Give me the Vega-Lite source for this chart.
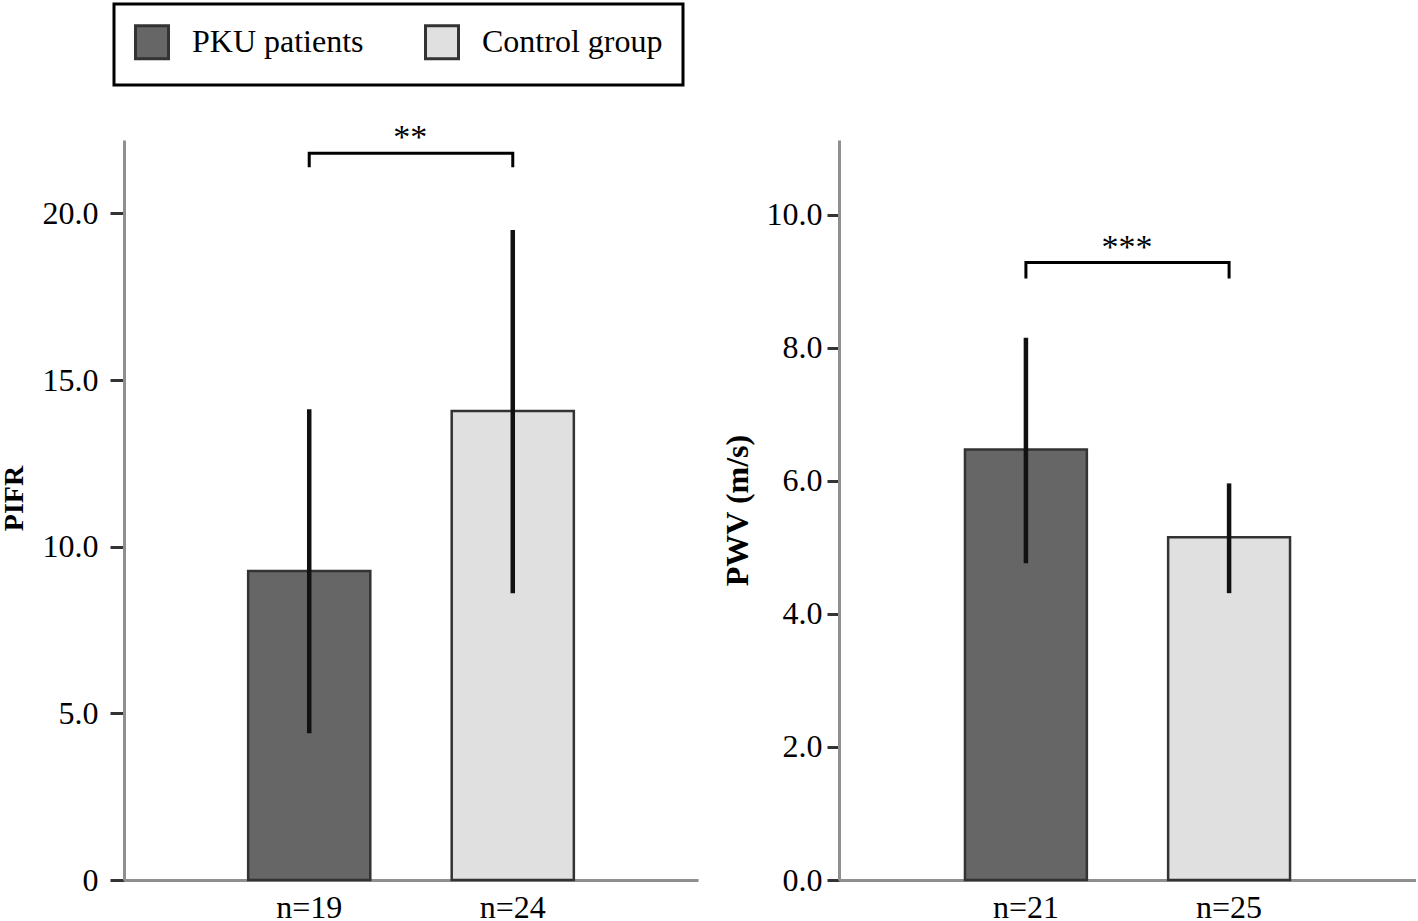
{
  "$schema": "https://vega.github.io/schema/vega-lite/v6.json",
  "padding": {"left": 0, "top": 2, "right": 0, "bottom": 0},
  "background": "#ffffff",
  "config": {
    "font": "Liberation Serif",
    "view": {"stroke": null},
    "axis": {
      "labelFont": "Liberation Serif", "labelFontSize": 32, "labelColor": "#000000",
      "titleFont": "Liberation Serif", "titleFontSize": 32, "titleFontWeight": "bold", "titleColor": "#000000",
      "grid": false, "domainColor": "#8f8f8f", "domainWidth": 3, "tickColor": "#333333", "tickWidth": 3
    },
    "legend": {"strokeWidth": 3}
  },
  "datasets": {
    "pifr": [
      {"label": "n=19", "group": "PKU patients", "mean": 9.27, "lo": 4.4, "hi": 14.12},
      {"label": "n=24", "group": "Control group", "mean": 14.07, "lo": 8.6, "hi": 19.5}
    ],
    "pifrBracket": [
      {"label": "n=19", "y": 21.38, "o": 1},
      {"label": "n=19", "y": 21.8, "o": 2},
      {"label": "n=24", "y": 21.8, "o": 3},
      {"label": "n=24", "y": 21.38, "o": 4}
    ],
    "pifrSig": [{"label": "n=19", "y": 21.97, "sig": "**"}],
    "pwv": [
      {"label": "n=21", "group": "PKU patients", "mean": 6.47, "lo": 4.76, "hi": 8.15},
      {"label": "n=25", "group": "Control group", "mean": 5.15, "lo": 4.31, "hi": 5.96}
    ],
    "pwvBracket": [
      {"label": "n=21", "y": 9.04, "o": 1},
      {"label": "n=21", "y": 9.28, "o": 2},
      {"label": "n=25", "y": 9.28, "o": 3},
      {"label": "n=25", "y": 9.04, "o": 4}
    ],
    "pwvSig": [{"label": "n=21", "y": 9.34, "sig": "***"}]
  },
  "spacing": 23,
  "resolve": {"scale": {"x": "independent", "y": "independent", "color": "shared"}, "legend": {"color": "shared"}},
  "hconcat": [
    {
      "width": 574, "height": 740,
      "layer": [
        {
          "data": {"name": "pifr"},
          "mark": {"type": "bar", "stroke": "#333333", "strokeWidth": 2.5},
          "encoding": {
            "x": {"field": "label", "type": "nominal", "sort": null,
              "scale": {"paddingInner": 0.4, "paddingOuter": 0.61},
              "axis": {"title": null, "labelAngle": 0, "ticks": false, "labelPadding": 12}},
            "y": {"field": "mean", "type": "quantitative",
              "scale": {"domain": [0, 22.2], "nice": false, "zero": true},
              "axis": {"title": "PIFR", "titleFontSize": 28, "titleY": 358, "values": [0, 5, 10, 15, 20],
                "labelExpr": "datum.value == 0 ? '0' : format(datum.value, '.1f')",
                "tickSize": 14, "labelPadding": 12, "titlePadding": 14}},
            "color": {"field": "group", "type": "nominal",
              "scale": {"domain": ["PKU patients", "Control group"], "range": ["#666666", "#e0e0e0"]},
              "legend": {"title": null, "orient": "none", "legendX": -10, "legendY": -136,
                "direction": "horizontal", "symbolType": "square", "symbolSize": 1089,
                "symbolStrokeColor": "#111111", "symbolStrokeWidth": 3, "symbolFillOpacity": 1,
                "labelFont": "Liberation Serif", "labelFontSize": 32, "labelColor": "#000000",
                "labelOffset": 22, "columnPadding": 55, "padding": 20, "labelLimit": 400,
                "strokeColor": "#000000", "fillColor": "#ffffff"}}
          }
        },
        {
          "data": {"name": "pifr"},
          "mark": {"type": "rule", "strokeWidth": 4.5, "color": "#111111"},
          "encoding": {
            "x": {"field": "label", "type": "nominal", "sort": null},
            "y": {"field": "lo", "type": "quantitative"},
            "y2": {"field": "hi"}
          }
        },
        {
          "data": {"name": "pifrBracket"},
          "mark": {"type": "line", "strokeWidth": 3, "color": "#000000", "strokeJoin": "miter"},
          "encoding": {
            "x": {"field": "label", "type": "nominal", "sort": null},
            "y": {"field": "y", "type": "quantitative"},
            "order": {"field": "o", "type": "quantitative"}
          }
        },
        {
          "data": {"name": "pifrSig"},
          "mark": {"type": "text", "fontSize": 34, "dx": 101, "baseline": "alphabetic", "color": "#000000"},
          "encoding": {
            "x": {"field": "label", "type": "nominal", "sort": null},
            "y": {"field": "y", "type": "quantitative"},
            "text": {"field": "sig"}
          }
        }
      ]
    },
    {
      "width": 577, "height": 740,
      "layer": [
        {
          "data": {"name": "pwv"},
          "mark": {"type": "bar", "stroke": "#333333", "strokeWidth": 2.5},
          "encoding": {
            "x": {"field": "label", "type": "nominal", "sort": null,
              "scale": {"paddingInner": 0.4, "paddingOuter": 0.62},
              "axis": {"title": null, "labelAngle": 0, "ticks": false, "labelPadding": 12}},
            "y": {"field": "mean", "type": "quantitative",
              "scale": {"domain": [0, 11.12], "nice": false, "zero": true},
              "axis": {"title": "PWV (m/s)", "values": [0, 2, 4, 6, 8, 10], "format": ".1f",
                "tickSize": 12, "labelPadding": 5, "titlePadding": 12}},
            "color": {"field": "group", "type": "nominal",
              "scale": {"domain": ["PKU patients", "Control group"], "range": ["#666666", "#e0e0e0"]}}
          }
        },
        {
          "data": {"name": "pwv"},
          "mark": {"type": "rule", "strokeWidth": 4.5, "color": "#111111"},
          "encoding": {
            "x": {"field": "label", "type": "nominal", "sort": null},
            "y": {"field": "lo", "type": "quantitative"},
            "y2": {"field": "hi"}
          }
        },
        {
          "data": {"name": "pwvBracket"},
          "mark": {"type": "line", "strokeWidth": 3, "color": "#000000", "strokeJoin": "miter"},
          "encoding": {
            "x": {"field": "label", "type": "nominal", "sort": null},
            "y": {"field": "y", "type": "quantitative"},
            "order": {"field": "o", "type": "quantitative"}
          }
        },
        {
          "data": {"name": "pwvSig"},
          "mark": {"type": "text", "fontSize": 34, "dx": 101, "baseline": "alphabetic", "color": "#000000"},
          "encoding": {
            "x": {"field": "label", "type": "nominal", "sort": null},
            "y": {"field": "y", "type": "quantitative"},
            "text": {"field": "sig"}
          }
        }
      ]
    }
  ]
}
